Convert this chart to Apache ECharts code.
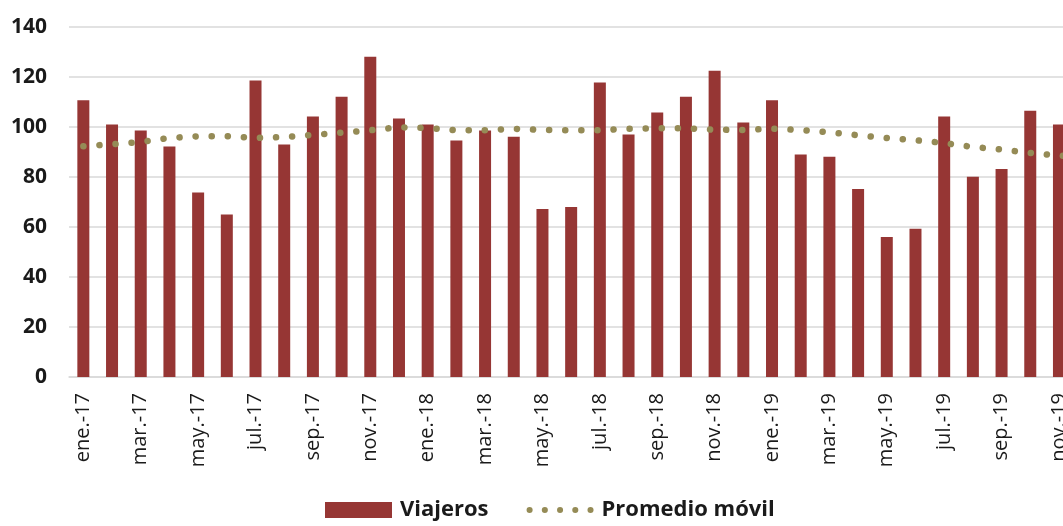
<!DOCTYPE html>
<html>
<head>
<meta charset="utf-8">
<script src="https://cdn.jsdelivr.net/npm/echarts@6/dist/echarts.min.js"></script>
<style>
  html, body { margin: 0; padding: 0; background: #fff; overflow: hidden; }
  #chart { width: 1102px; height: 526px; }
</style>
</head>
<body>
<div id="chart"></div>
<script>
// el gráfico original está recortado a la derecha (dic.-19 queda fuera)
var meses = ['ene.-17','feb.-17','mar.-17','abr.-17','may.-17','jun.-17','jul.-17','ago.-17','sep.-17','oct.-17','nov.-17','dic.-17',
             'ene.-18','feb.-18','mar.-18','abr.-18','may.-18','jun.-18','jul.-18','ago.-18','sep.-18','oct.-18','nov.-18','dic.-18',
             'ene.-19','feb.-19','mar.-19','abr.-19','may.-19','jun.-19','jul.-19','ago.-19','sep.-19','oct.-19','nov.-19','dic.-19'];

var viajeros = [110.7, 101, 98.6, 92.2, 73.8, 65, 118.6, 93, 104.2, 112.1, 128.1, 103.4,
                101, 94.6, 98.6, 96.1, 67.2, 68, 117.8, 97, 105.8, 112.1, 122.5, 101.8,
                110.7, 89, 88.1, 75.2, 56, 59.3, 104.2, 80.1, 83.2, 106.5, 101, null];

var promedioMovil = [92.3, 93.1, 94, 95.6, 96.3, 96.3, 95.6, 96, 96.8, 97.7, 98.7, 99.9,
                     99.6, 98.7, 98.7, 99.3, 98.8, 98.7, 98.7, 99.3, 99.5, 99.5, 98.9, 98.8,
                     99.3, 98.8, 97.9, 96.7, 95.6, 94.7, 93.6, 92, 91, 89.6, 88.6, 87.6];

var yTicks = [0, 20, 40, 60, 80, 100, 120, 140];

// icono de puntos para la leyenda del promedio móvil
var dotsIcon = 'path://';
for (var i = 0; i < 5; i++) {
    var cx = 3 + i * 15;
    dotsIcon += 'M' + (cx - 3) + ',3a3,3 0 1,0 6,0a3,3 0 1,0 -6,0Z';
}

var chart = echarts.init(document.getElementById('chart'));

var option = {
    animation: false,
    textStyle: { fontFamily: 'Open Sans' },
    grid: {
        left: 69,
        right: 0,
        top: 27,
        height: 350,
        containLabel: false
    },
    legend: {
        top: 499,
        left: 325,
        padding: 0,
        itemWidth: 67,
        itemHeight: 16,
        itemGap: 38,
        textStyle: { fontSize: 22, fontWeight: 'bold', color: '#1a1a1a', fontFamily: 'Open Sans', padding: [0, 0, 0, 3] },
        data: [
            { name: 'Viajeros', icon: 'rect' },
            { name: 'Promedio móvil', icon: dotsIcon }
        ]
    },
    xAxis: {
        type: 'category',
        data: meses,
        axisLine: { show: true, lineStyle: { color: '#d9d9d9', width: 1.5 } },
        axisTick: { show: false },
        axisLabel: {
            interval: 1,
            rotate: 90,
            margin: 16,
            fontSize: 20,
            color: '#1a1a1a',
            fontFamily: 'Open Sans'
        }
    },
    yAxis: {
        type: 'value',
        min: yTicks[0],
        max: yTicks[yTicks.length - 1],
        interval: 20,
        axisLine: { show: false },
        axisTick: { show: false },
        splitLine: { lineStyle: { color: '#d9d9d9', width: 1.5 } },
        axisLabel: {
            margin: 22,
            fontSize: 21,
            fontWeight: 'bold',
            color: '#1a1a1a',
            fontFamily: 'Open Sans'
        }
    },
    series: [
        {
            name: 'Viajeros',
            type: 'bar',
            data: viajeros,
            barWidth: 12,
            itemStyle: { color: '#963634' }
        },
        {
            name: 'Promedio móvil',
            type: 'line',
            data: promedioMovil,
            symbol: 'none',
            itemStyle: { color: '#958b56' },
            lineStyle: {
                color: '#958b56',
                width: 6.5,
                type: [0.1, 16],
                cap: 'round'
            },
            z: 3
        }
    ]
};

chart.setOption(option);
</script>
</body>
</html>
